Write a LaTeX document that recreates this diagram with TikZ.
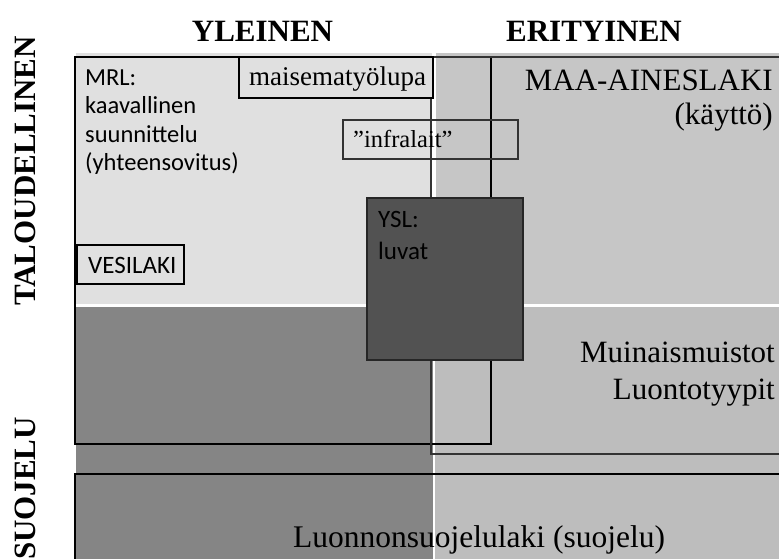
\documentclass[tikz,border=0pt]{standalone}
\usepackage{fontspec}
\setmainfont{Liberation Serif}
\newfontfamily\lawsans{Carlito}
\usepackage{tikz}
\definecolor{A}{RGB}{224,224,224}
\definecolor{B}{RGB}{198,198,198}
\definecolor{C}{RGB}{133,133,133}
\definecolor{D}{RGB}{189,189,189}
\definecolor{Y}{RGB}{82,82,82}
\newcommand{\drawthick}{\draw[line width=2.5pt]}
\newcommand{\drawthin}{\draw[line width=1.3pt, black!80]}
\tikzset{
  serif/.style={inner sep=0pt, font=\fontsize{31}{34}\selectfont},
  sans/.style={inner sep=0pt, align=left, anchor=base west, font=\lawsans\fontsize{24.5}{28.3}\selectfont},
  head/.style={inner sep=0pt, anchor=base, font=\bfseries\fontsize{31}{31}\selectfont}
}
\begin{document}
\begin{tikzpicture}[x=1pt,y=-1pt]
\useasboundingbox (0,0) rectangle (779,559);
\clip (0,0) rectangle (779,559);
\fill[A] (76,53.5) rectangle (432,304);
\fill[B] (435.5,53.5) rectangle (779,304);
\fill[C] (76,307) rectangle (433,559);
\fill[D] (435,307) rectangle (779,559);
\drawthick (75,57) rectangle (491,444);
\drawthin (431,57) rectangle (790,454);
\drawthin (343,120) rectangle (518,159);
\drawthick[fill=A] (239,57) rectangle (433,98);
\drawthick[fill=A] (77,245) rectangle (184,284);
\draw[line width=1.2pt, black!85, fill=Y] (367,198) rectangle (523,360);
\drawthick (75,474) rectangle (790,570);
% texts (multi-line nodes sit on their last baseline)
\node[head] (yleinen) at (262.5,41.7) {YLEINEN};
\node[head] (erityinen) at (594,41.7) {ERITYINEN};
\node[head, rotate=90] (talous) at (35,171) {TALOUDELLINEN};
\node[head, rotate=90] (suojelu) at (35,488.5) {SUOJELU};
\node[sans] (mrl) at (85,170.5) {MRL:\\kaavallinen\\suunnittelu\\(yhteensovitus)};
\node[sans, font=\lawsans\fontsize{25}{32}\selectfont] (ysl) at (378,259) {YSL:\\luvat};
\node[sans, font=\lawsans\fontsize{25}{28}\selectfont] (vesilaki) at (88,273.3) {VESILAKI};
\node[serif, anchor=base west, font=\fontsize{27}{30}\selectfont] (maisema) at (249,86) {maisematyölupa};
\node[serif, anchor=base west, font=\fontsize{24.5}{28}\selectfont] (infra) at (353,147) {”infralait”};
\node[serif, anchor=base east, align=right] (maaaines) at (773,125) {MAA-AINESLAKI\\(käyttö)};
\node[serif, anchor=base east, align=right, font=\fontsize{31}{37}\selectfont] (muinais) at (775,399) {Muinaismuistot\\Luontotyypit};
\node[serif, anchor=base west, font=\fontsize{31.5}{34}\selectfont] (lsl) at (293,547) {Luonnonsuojelulaki (suojelu)};
\end{tikzpicture}
\end{document}
